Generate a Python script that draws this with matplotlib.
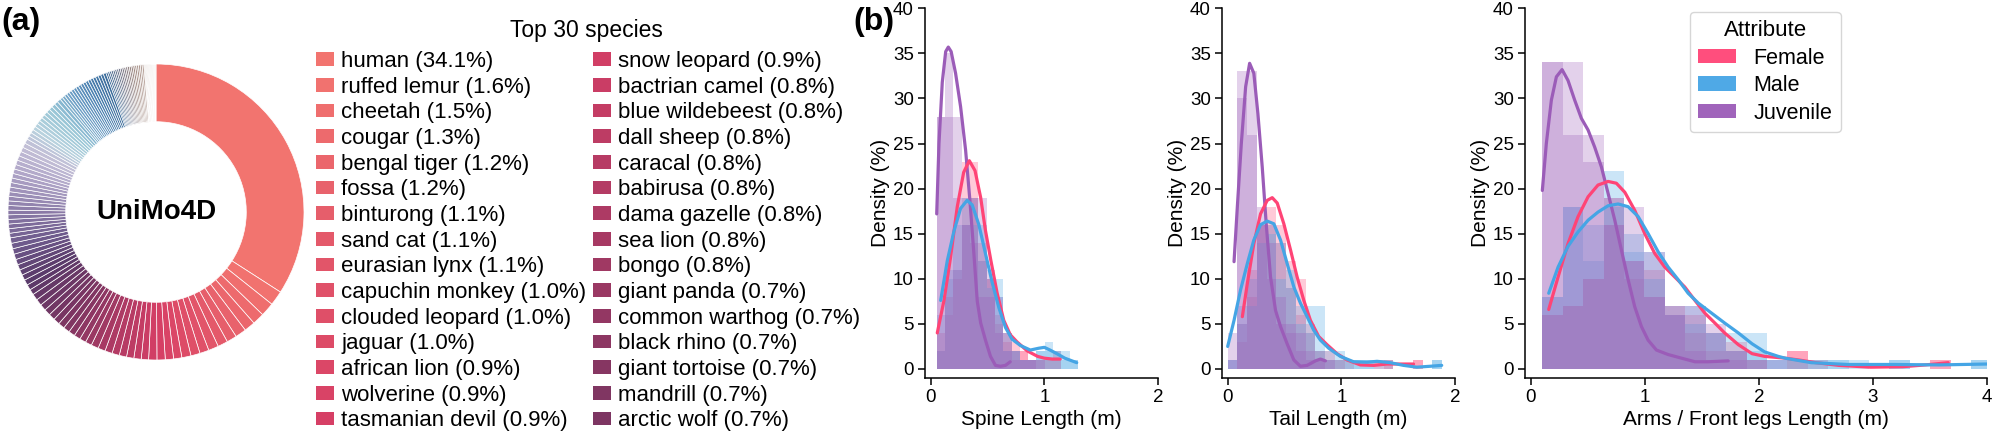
import matplotlib.pyplot as plt
import numpy as np
from matplotlib.patches import Patch
from matplotlib.colors import LinearSegmentedColormap

plt.rcParams['font.family'] = ['Liberation Sans', 'DejaVu Sans']

# ---------------- (a) species share ----------------
top_species = ['human', 'ruffed lemur', 'cheetah', 'cougar', 'bengal tiger', 'fossa',
               'binturong', 'sand cat', 'eurasian lynx', 'capuchin monkey', 'clouded leopard',
               'jaguar', 'african lion', 'wolverine', 'tasmanian devil', 'snow leopard',
               'bactrian camel', 'blue wildebeest', 'dall sheep', 'caracal', 'babirusa',
               'dama gazelle', 'sea lion', 'bongo', 'giant panda', 'common warthog',
               'black rhino', 'giant tortoise', 'mandrill', 'arctic wolf']
top_share = [34.1, 1.6, 1.5, 1.3, 1.2, 1.2, 1.1, 1.1, 1.1, 1.0, 1.0, 1.0, 0.9, 0.9, 0.9,
             0.9, 0.8, 0.8, 0.8, 0.8, 0.8, 0.8, 0.8, 0.8, 0.7, 0.7, 0.7, 0.7, 0.7, 0.7]
# remaining (unlabelled) species, read as runs of equal slices
other_share = ([0.7] * 6 + [0.6] * 11 + [0.5] * 22 + [0.4] * 14 + [0.3] * 19
               + [0.2] * 21 + [0.1] * 13)

# ---------------- (b) length distributions ----------------
attributes = ['Female', 'Male', 'Juvenile']
attr_colors = ['#ff4476', '#45a5e5', '#9b5cb8']

# spine length, 17 shared bins
spine_edges = np.linspace(0.053, 1.296, 18)
spine_fem_a = [4, 8, 11, 23, 23, 14, 10, 6, 4, 3, 2, 1, 1, 1, 2, 0, 0]
spine_fem_b = [2, 6, 10, 16, 19, 12, 10, 5, 3, 2, 2, 1, 1, 1, 1, 0, 0]
spine_male_a = [6, 11, 16, 19, 19, 16, 10, 10, 4, 2, 1, 1, 2, 3, 2, 2, 1]
spine_male_b = [2, 10, 11, 16, 16, 12, 9, 8, 2, 2, 1, 1, 2, 2, 2, 1, 1]
spine_juv_a = [28, 35, 28, 19, 19, 19, 11, 8, 4, 2, 1, 1, 1, 0, 0, 0, 0]
spine_juv_b = [28, 28, 19, 16, 14, 8, 8, 4, 2, 1, 1, 1, 0, 0, 0, 0, 0]
spine_fem_kx = [0.058, 0.117, 0.175, 0.234, 0.29, 0.34, 0.39, 0.44, 0.48, 0.53, 0.585,
                0.643, 0.70, 0.76, 0.85, 0.94, 1.0, 1.07, 1.14]
spine_fem_ky = [4.0, 7.6, 12.4, 18.0, 21.8, 23.1, 22.0, 19.0, 15.5, 12.0, 8.4, 5.4, 3.8,
                3.0, 2.0, 1.4, 1.2, 1.1, 1.1]
spine_male_kx = [0.088, 0.146, 0.205, 0.263, 0.32, 0.365, 0.424, 0.482, 0.541, 0.60, 0.658,
                 0.716, 0.79, 0.877, 0.95, 1.0, 1.05, 1.11, 1.18, 1.285]
spine_male_ky = [7.6, 12.0, 15.3, 17.8, 18.7, 18.2, 16.0, 12.8, 9.6, 6.8, 4.6, 3.3, 2.6,
                 2.1, 2.3, 2.4, 2.1, 1.7, 1.2, 0.7]
spine_juv_kx = [0.053, 0.073, 0.102, 0.132, 0.155, 0.18, 0.219, 0.263, 0.307, 0.345, 0.38,
                0.41, 0.44, 0.482, 0.526, 0.57, 0.614, 0.658, 0.70]
spine_juv_ky = [17.2, 25.0, 31.8, 35.2, 35.7, 35.2, 32.8, 29.1, 24.3, 18.7, 12.8, 7.5, 5.1,
                3.2, 1.4, 0.4, 0.3, 0.4, 0.8]

# tail length, 22 shared bins
tail_edges = np.linspace(0.0, 1.886, 23)
tail_fem_a = [0, 5, 11, 16, 18, 16, 12, 10, 5, 2, 2, 1, 1, 0, 0, 1, 1, 0, 0, 1, 0, 0]
tail_fem_b = [0, 3, 8, 16, 16, 14, 9, 6, 4, 2, 1, 1, 0, 0, 0, 0, 1, 0, 0, 1, 0, 0]
tail_male_a = [1, 7, 10, 16, 16, 14, 11, 7, 7, 7, 2, 2, 1, 1, 1, 1, 1, 0, 0, 0, 0, 1]
tail_male_b = [1, 5, 7, 14, 15, 10, 9, 5, 4, 2, 1, 1, 1, 1, 1, 0, 0, 0, 0, 0, 0, 1]
tail_juv_a = [4, 33, 33, 18, 14, 8, 5, 4, 2, 1, 1, 0, 0, 0, 0, 0, 0, 0, 0, 0, 0, 0]
tail_juv_b = [1, 30, 26, 16, 10, 5, 4, 2, 1, 1, 0, 0, 0, 0, 0, 0, 0, 0, 0, 0, 0, 0]
tail_fem_kx = [0.129, 0.173, 0.23, 0.289, 0.348, 0.392, 0.436, 0.494, 0.553, 0.611, 0.67,
               0.728, 0.801, 0.874, 0.962, 1.05, 1.167, 1.285, 1.40, 1.52, 1.635]
tail_fem_ky = [5.8, 9.5, 13.9, 17.2, 18.7, 19.0, 18.4, 16.1, 13.2, 10.2, 7.6, 5.4, 3.6,
               2.7, 1.7, 1.0, 0.45, 0.4, 0.55, 0.55, 0.55]
tail_male_kx = [0.0, 0.056, 0.114, 0.173, 0.23, 0.289, 0.348, 0.406, 0.465, 0.523, 0.582,
                0.64, 0.699, 0.757, 0.816, 0.889, 0.991, 1.108, 1.225, 1.314, 1.43, 1.547,
                1.664, 1.78, 1.883]
tail_male_ky = [2.5, 5.4, 8.8, 11.7, 14.3, 16.0, 16.4, 16.1, 14.3, 11.7, 9.1, 7.3, 5.8,
                4.3, 3.2, 2.3, 1.4, 0.8, 0.75, 0.85, 0.7, 0.4, 0.2, 0.3, 0.4]
tail_juv_kx = [0.056, 0.085, 0.12, 0.158, 0.193, 0.23, 0.266, 0.304, 0.339, 0.377, 0.421,
               0.465, 0.523, 0.582, 0.64, 0.699, 0.772, 0.816, 0.86]
tail_juv_ky = [11.9, 18.0, 25.0, 31.3, 33.9, 32.8, 28.3, 22.4, 16.1, 10.2, 6.5, 4.7, 2.8,
               1.0, 0.3, 0.4, 0.9, 1.1, 0.9]

# arms / front legs length, 22 shared bins
arms_edges = np.linspace(0.102, 4.04, 23)
arms_fem_a = [6, 7, 10, 19, 12, 11, 7, 6, 4, 3, 1, 0, 2, 1, 0, 0, 0, 0, 0, 1, 0, 0]
arms_fem_b = [6, 7, 10, 16, 10, 8, 6, 4, 2, 2, 1, 0, 2, 0, 0, 0, 0, 0, 0, 1, 0, 0]
arms_male_a = [8, 18, 16, 22, 15, 13, 7, 7, 4, 4, 4, 1, 1, 1, 1, 1, 0, 1, 0, 0, 0, 1]
arms_male_b = [8, 18, 12, 18, 13, 10, 6, 5, 4, 2, 2, 1, 1, 1, 1, 0, 0, 1, 0, 0, 0, 1]
arms_juv_a = [34, 34, 26, 19, 18, 13, 7, 7, 5, 2, 1, 1, 0, 0, 0, 0, 0, 0, 0, 0, 0, 0]
arms_juv_b = [34, 26, 23, 16, 12, 8, 6, 2, 1, 1, 0, 0, 0, 0, 0, 0, 0, 0, 0, 0, 0, 0]
arms_fem_kx = [0.158, 0.24, 0.327, 0.415, 0.503, 0.59, 0.678, 0.751, 0.825, 0.912, 1.0,
               1.088, 1.175, 1.263, 1.35, 1.44, 1.526, 1.614, 1.70, 1.82, 1.94, 2.05, 2.23,
               2.35, 2.5, 2.7, 2.98, 3.26, 3.46, 3.66]
arms_fem_ky = [6.6, 10.2, 13.9, 16.9, 19.1, 20.4, 20.8, 20.6, 19.6, 17.6, 15.0, 12.8, 11.3,
               10.2, 9.1, 7.6, 6.2, 5.1, 4.0, 2.7, 1.7, 1.4, 1.2, 1.0, 0.7, 0.4, 0.2, 0.25,
               0.45, 0.7]
arms_male_kx = [0.158, 0.24, 0.327, 0.415, 0.503, 0.59, 0.678, 0.766, 0.854, 0.942, 1.03,
                1.117, 1.205, 1.293, 1.38, 1.47, 1.585, 1.70, 1.82, 1.94, 2.05, 2.17, 2.23,
                2.46, 2.78, 3.18, 3.58, 4.0]
arms_male_ky = [8.4, 11.3, 13.6, 15.2, 16.5, 17.4, 18.1, 18.3, 18.0, 16.9, 15.0, 13.0, 11.3,
                9.9, 8.4, 7.3, 6.2, 5.1, 4.0, 2.8, 1.9, 1.4, 1.2, 0.7, 0.5, 0.5, 0.45, 0.55]
arms_juv_kx = [0.102, 0.137, 0.181, 0.225, 0.275, 0.327, 0.386, 0.444, 0.503, 0.561, 0.62,
               0.678, 0.737, 0.795, 0.854, 0.912, 0.971, 1.029, 1.102, 1.205, 1.322, 1.44,
               1.555, 1.731]
arms_juv_ky = [19.8, 25.0, 29.8, 32.4, 33.2, 32.0, 29.8, 27.8, 26.5, 24.6, 22.4, 19.5, 16.5,
               13.2, 9.9, 6.9, 4.7, 3.2, 2.1, 1.6, 1.2, 0.8, 0.8, 0.9]

W, H = 1993, 432
fig = plt.figure(figsize=(W / 100, H / 100), dpi=100)

# ---------------- donut ----------------
shares = top_share + other_share
n = len(shares)
anchors = [(0, '#f2746f'), (14, '#d63e65'), (29, '#7a3562'), (38, '#5a3a6a'),
           (45, '#6e5a8c'), (52, '#8a7aa6'), (61, '#b0a6c8'), (67, '#c2bed6'),
           (72, '#b8d2de'), (79, '#98c6d6'), (87, '#6a9cc4'), (95, '#4a80b0'),
           (102, '#3a6a98'), (110, '#7a7888'), (117, '#a08a82'), (124, '#c0aca4'),
           (n - 1, '#e2d8d2')]
cmap = LinearSegmentedColormap.from_list('donut', [(i / (n - 1), c) for i, c in anchors])
slice_colors = [cmap(i / (n - 1)) for i in range(n)]

ax_pie = fig.add_axes([8 / W, 72 / H, 296 / W, 296 / H])
ax_pie.pie(shares, colors=slice_colors, startangle=90, counterclock=False,
           wedgeprops=dict(width=0.39, edgecolor='white', linewidth=0.5))
ax_pie.set_xlim(-1, 1)
ax_pie.set_ylim(-1, 1)
ax_pie.set_aspect('equal')
ax_pie.text(0, 0, 'UniMo4D', ha='center', va='center', fontsize=20, fontweight='bold')

handles = [Patch(facecolor=slice_colors[i], edgecolor='none') for i in range(len(top_species))]
labels = [f'{s} ({p:.1f}%)' for s, p in zip(top_species, top_share)]
fig.text(586 / W, 1 - 31 / H, 'Top 30 species', fontsize=16.5, ha='center', va='center')
fig.legend(handles, labels, ncol=2, loc='upper center', bbox_to_anchor=(588 / W, 1 - 51 / H),
           frameon=False, fontsize=16, handlelength=0.82, handleheight=0.56,
           handletextpad=0.32, labelspacing=0.21, columnspacing=0.28, borderpad=0,
           borderaxespad=0)

fig.text(1 / W, 1 - 22 / H, '(a)', fontsize=23, fontweight='bold', va='center', ha='left')
fig.text(853 / W, 1 - 22 / H, '(b)', fontsize=23, fontweight='bold', va='center', ha='left')


# ---------------- histograms ----------------
def draw_panel(ax, edges, layers, kdes, xlabel, xmax, xticks):
    width = edges[1] - edges[0]
    for (a, b), color in zip(layers, attr_colors):
        ax.bar(edges[:-1], a, width=width, align='edge', color=color, alpha=0.28, linewidth=0)
        ax.bar(edges[:-1], b, width=width, align='edge', color=color, alpha=0.28, linewidth=0)
    for idx in [2, 0, 1]:
        kx, ky = kdes[idx]
        ax.plot(kx, ky, color=attr_colors[idx], lw=2.3, solid_capstyle='round')
    ax.set_xlim(-0.05, xmax)
    ax.set_ylim(-1, 40)
    ax.set_xticks(xticks)
    ax.set_yticks(range(0, 41, 5))
    ax.set_xlabel(xlabel, fontsize=15, labelpad=3)
    ax.set_ylabel('Density (%)', fontsize=15, labelpad=2)
    ax.tick_params(labelsize=13.5, length=5, width=1.1, pad=3)
    for s in ['top', 'right']:
        ax.spines[s].set_visible(False)
    for s in ['left', 'bottom']:
        ax.spines[s].set_linewidth(1.1)


top = 1 - 8.3 / H
bottom = 54 / H
ax1 = fig.add_axes([925 / W, bottom, 233 / W, top - bottom])
draw_panel(ax1, spine_edges,
           [(spine_fem_a, spine_fem_b), (spine_male_a, spine_male_b), (spine_juv_a, spine_juv_b)],
           [(spine_fem_kx, spine_fem_ky), (spine_male_kx, spine_male_ky), (spine_juv_kx, spine_juv_ky)],
           'Spine Length (m)', 2, [0, 1, 2])

ax2 = fig.add_axes([1222 / W, bottom, 233 / W, top - bottom])
draw_panel(ax2, tail_edges,
           [(tail_fem_a, tail_fem_b), (tail_male_a, tail_male_b), (tail_juv_a, tail_juv_b)],
           [(tail_fem_kx, tail_fem_ky), (tail_male_kx, tail_male_ky), (tail_juv_kx, tail_juv_ky)],
           'Tail Length (m)', 2, [0, 1, 2])

ax3 = fig.add_axes([1525 / W, bottom, 462 / W, top - bottom])
draw_panel(ax3, arms_edges,
           [(arms_fem_a, arms_fem_b), (arms_male_a, arms_male_b), (arms_juv_a, arms_juv_b)],
           [(arms_fem_kx, arms_fem_ky), (arms_male_kx, arms_male_ky), (arms_juv_kx, arms_juv_ky)],
           'Arms / Front legs Length (m)', 4, [0, 1, 2, 3, 4])

attr_handles = [Patch(facecolor=c, edgecolor='none', alpha=0.95) for c in attr_colors]
ax3.legend(attr_handles, attributes, title='Attribute', loc='upper left',
           bbox_to_anchor=(0.333, 1.02), fontsize=15.5, title_fontsize=16,
           handlelength=1.75, handleheight=0.65, handletextpad=0.8, labelspacing=0.3,
           borderpad=0.4)

fig.savefig('out.png', dpi=100)
